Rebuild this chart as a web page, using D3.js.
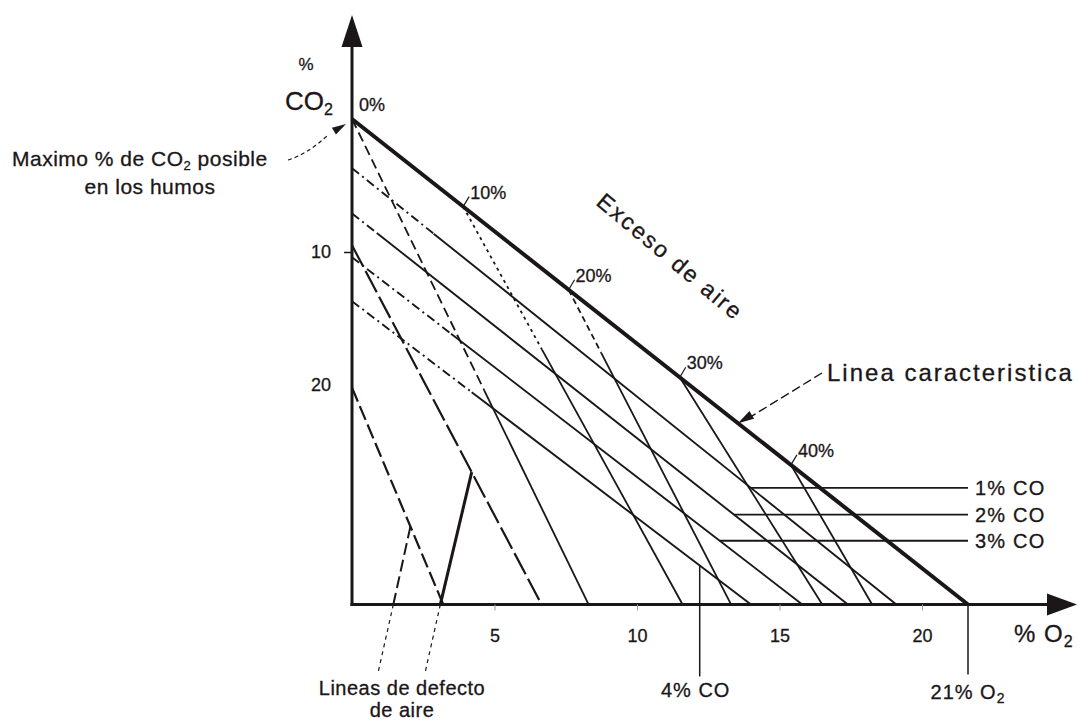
<!DOCTYPE html>
<html>
<head>
<meta charset="UTF-8" />
<title>Diagrama de combustion</title>
<script src="https://cdn.jsdelivr.net/npm/d3@7"></script>
<style>
  body { margin: 0; background: #fff; }
  svg { display: block; font-family: "Liberation Sans", Arial, sans-serif; }
  svg text { stroke: #1b1617; stroke-width: 0.3px; }
</style>
</head>
<body>
<svg width="1079" height="720"></svg>
<script>
// O2 axis (x) and CO2 axis (y, read downward from the max CO2 point)
const xTicks = [5, 10, 15, 20];
const yTicks = [10, 20];
const o2End = 21; // 21 % O2, foot of the characteristic line
const yFoot = 36.5; // level of the O2 axis in CO2-axis units

// excess air: mark on the characteristic line (O2) and foot on the O2 axis
const excessLabels = ["0%", "10%", "20%", "30%", "40%"];
const excessTop = [0, 3.9, 7.6, 11.5, 15.4];
const excessFoot = [8.3, 11.6, 13.3, 16.5, 18.25];

// CO lines: start on the CO2 axis, foot on the O2 axis, leader point (O2)
const coLabels = ["1% CO", "2% CO", "3% CO", "4% CO"];
const coStart = [3.7, 7.1, 10.4, 13.7];
const coFoot = [19.1, 17.4, 15.8, 14.0];
const coMark = [14.0, 13.4, 12.9, 12.2];

// air defect lines (start on CO2 axis, foot on O2 axis) and the V returns
const defectStart = [20.2, 9.5];
const defectFoot = [3.2, 6.65];
const defectPeak = [2.05, 4.2];
const defectBack = [1.45, 3.1];

const ink = "#1b1617";
const svg = d3.select("svg");
svg.append("rect").attr("width", 1079).attr("height", 720).attr("fill", "#fff");

const x = d3.scaleLinear().domain([0, 20, o2End]).range([352, 922, 968]);
const y = d3.scaleLinear().domain([0, 20]).range([119, 385]);
const x0 = x(0);
const yBase = y(yFoot);

const lerp = (p, q, t) => [p[0] + t * (q[0] - p[0]), p[1] + t * (q[1] - p[1])];
const along = (p, q, u) => lerp(p, q, (x(u) - p[0]) / (q[0] - p[0]));

function seg(g, p, q, w, dash) {
	return g
		.append("line")
		.attr("x1", p[0])
		.attr("y1", p[1])
		.attr("x2", q[0])
		.attr("y2", q[1])
		.attr("stroke", ink)
		.attr("stroke-width", w)
		.attr("stroke-dasharray", dash || null);
}

// dashed for the first part t, solid after
function splitLine(g, p, q, t, dash, w) {
	const m = lerp(p, q, t);
	if (t > 0) seg(g, p, m, w, dash);
	seg(g, m, q, w);
}

function arrowHead(tip, from, len, half) {
	const dx = tip[0] - from[0],
		dy = tip[1] - from[1];
	const d = Math.hypot(dx, dy);
	const ux = dx / d,
		uy = dy / d;
	const b = [tip[0] - ux * len, tip[1] - uy * len];
	svg
		.append("polygon")
		.attr(
			"points",
			[tip, [b[0] - uy * half, b[1] + ux * half], [b[0] + uy * half, b[1] - ux * half]]
				.map((p) => p.join(","))
				.join(" ")
		)
		.attr("fill", ink);
}

const lines = svg.append("g").attr("stroke-linecap", "butt");

// characteristic line
const cA = [x(0), y(0)];
const cB = [x(o2End), yBase];

// excess air lines
const excessDash = ["10,5", "3,4", "6,4", null, null];
const excessPart = [0.56, 0.36, 0.2, 0, 0];
excessTop.forEach((u, i) => {
	const top = along(cA, cB, u);
	splitLine(lines, top, [x(excessFoot[i]), yBase], excessPart[i], excessDash[i], 1.8);
});

// CO lines
const coPart = [0.15, 0.05, 0.22, 0.3];
coStart.forEach((v, i) => {
	splitLine(lines, [x0, y(v)], [x(coFoot[i]), yBase], coPart[i], "9,4,2,4", 1.9);
});

// defect lines
const defectDash = ["15,5", "24,5"];
defectStart.forEach((v, i) => {
	const p = [x0, y(v)];
	const q = [x(defectFoot[i]), yBase];
	seg(lines, p, q, 2.2, defectDash[i]);
	const peak = along(p, q, defectPeak[i]);
	const back = [x(defectBack[i]), yBase];
	seg(lines, peak, back, i === 0 ? 2 : 3, i === 0 ? "12,5" : null);
	// leader to the label below the axis
	seg(lines, back, [back[0] - 15, yBase + 67], 1.2, "4,4");
});

seg(svg, cA, cB, 4);

// axes
seg(svg, [x0, yBase + 1.5], [x0, 40], 3);
arrowHead([x0, 15], [x0, yBase], 32, 10.5);
seg(svg, [x0 - 1.5, yBase], [1050, yBase], 3);
arrowHead([1077, yBase], [x0, yBase], 30, 11);

const xAxis = svg
	.append("g")
	.attr("transform", `translate(0,${yBase})`)
	.call(d3.axisBottom(x).tickValues(xTicks).tickSize(6).tickPadding(19));
xAxis.select(".domain").remove();
xAxis.selectAll(".tick line").attr("stroke", "#999").attr("stroke-width", 1);
xAxis.selectAll(".tick text").attr("fill", ink).attr("font-size", 18).attr("font-family", null);

const yAxis = svg
	.append("g")
	.attr("transform", `translate(${x0},0)`)
	.call(d3.axisLeft(y).tickValues(yTicks).tickSize(8).tickPadding(13));
yAxis.select(".domain").remove();
yAxis.selectAll(".tick line").attr("stroke", ink).attr("stroke-width", 1.5).filter((d) => d !== 10).remove();
yAxis.selectAll(".tick text").attr("fill", ink).attr("font-size", 18).attr("font-family", null);

// labels
const label = (tx, ty, size) =>
	svg.append("text").attr("x", tx).attr("y", ty).attr("font-size", size).attr("fill", ink);

excessTop.forEach((u, i) => {
	const p = along(cA, cB, u);
	if (i > 0) seg(svg, p, [p[0] + 6, p[1] - 10], 1.2);
	label(p[0] + 7, p[1] - 8, 18).text(excessLabels[i]);
});

svg
	.append("text")
	.attr("transform", "translate(595,204) rotate(40)")
	.attr("font-size", 23)
	.attr("letter-spacing", 2.2)
	.attr("fill", ink)
	.text("Exceso de aire");

// CO leaders and labels
coMark.forEach((u, i) => {
	const m = along([x0, y(coStart[i])], [x(coFoot[i]), yBase], u);
	if (i < 3) {
		seg(svg, m, [x(o2End), m[1]], 1.8);
		label(x(o2End) + 7, m[1] + 7, 20).attr("letter-spacing", 1.2).text(coLabels[i]);
	} else {
		seg(svg, m, [m[0], yBase + 72], 1.5);
		label(m[0] - 4, yBase + 93, 20).attr("text-anchor", "middle").attr("letter-spacing", 1).text(coLabels[i]);
	}
});

seg(svg, [x(o2End), yBase], [x(o2End), yBase + 70], 1.5);
const o2Label = label(x(o2End), yBase + 95, 20).attr("text-anchor", "middle").attr("letter-spacing", 1);
o2Label.append("tspan").text("21% O");
o2Label.append("tspan").attr("dy", 4).attr("font-size", 14).text("2");

const axO2 = label(1014, yBase + 38, 24).attr("letter-spacing", 1);
axO2.append("tspan").text("% O");
axO2.append("tspan").attr("dy", 5).attr("font-size", 16).text("2");

label(306, 70, 17).attr("text-anchor", "middle").text("%");
const co2 = label(333, 110, 26).attr("text-anchor", "end");
co2.append("tspan").text("CO");
co2.append("tspan").attr("dy", 5).attr("font-size", 16).text("2");

// max CO2 note
const maxNote = label(12, 166, 21).attr("letter-spacing", 0.5);
maxNote.append("tspan").text("Maximo % de CO");
maxNote.append("tspan").attr("dy", 4).attr("font-size", 13).text("2");
maxNote.append("tspan").attr("dy", -4).text(" posible");
label(150, 194, 21).attr("text-anchor", "middle").attr("letter-spacing", 0.5).text("en los humos");
const tipMax = [cA[0] - 6, cA[1] + 5];
svg
	.append("path")
	.attr("d", `M${tipMax[0] - 58},${tipMax[1] + 36} Q${tipMax[0] - 38},${tipMax[1] + 30} ${tipMax[0] - 17},${tipMax[1] + 10}`)
	.attr("fill", "none")
	.attr("stroke", ink)
	.attr("stroke-width", 1.2)
	.attr("stroke-dasharray", "4,3");
arrowHead(tipMax, [tipMax[0] - 17, tipMax[1] + 10], 14, 4);

// characteristic line note
label(827, 381, 24).attr("letter-spacing", 2).text("Linea caracteristica");
const tipChar = along(cA, cB, x.invert(738));
seg(svg, [822, 373], [tipChar[0] + 12, tipChar[1] - 6], 1.4, "9,4");
arrowHead(tipChar, [822, 373], 16, 4.5);

// defect note
label(402, 695, 20).attr("text-anchor", "middle").attr("letter-spacing", 0.5).text("Lineas de defecto");
label(402, 717, 20).attr("text-anchor", "middle").attr("letter-spacing", 0.5).text("de aire");
</script>
</body>
</html>
